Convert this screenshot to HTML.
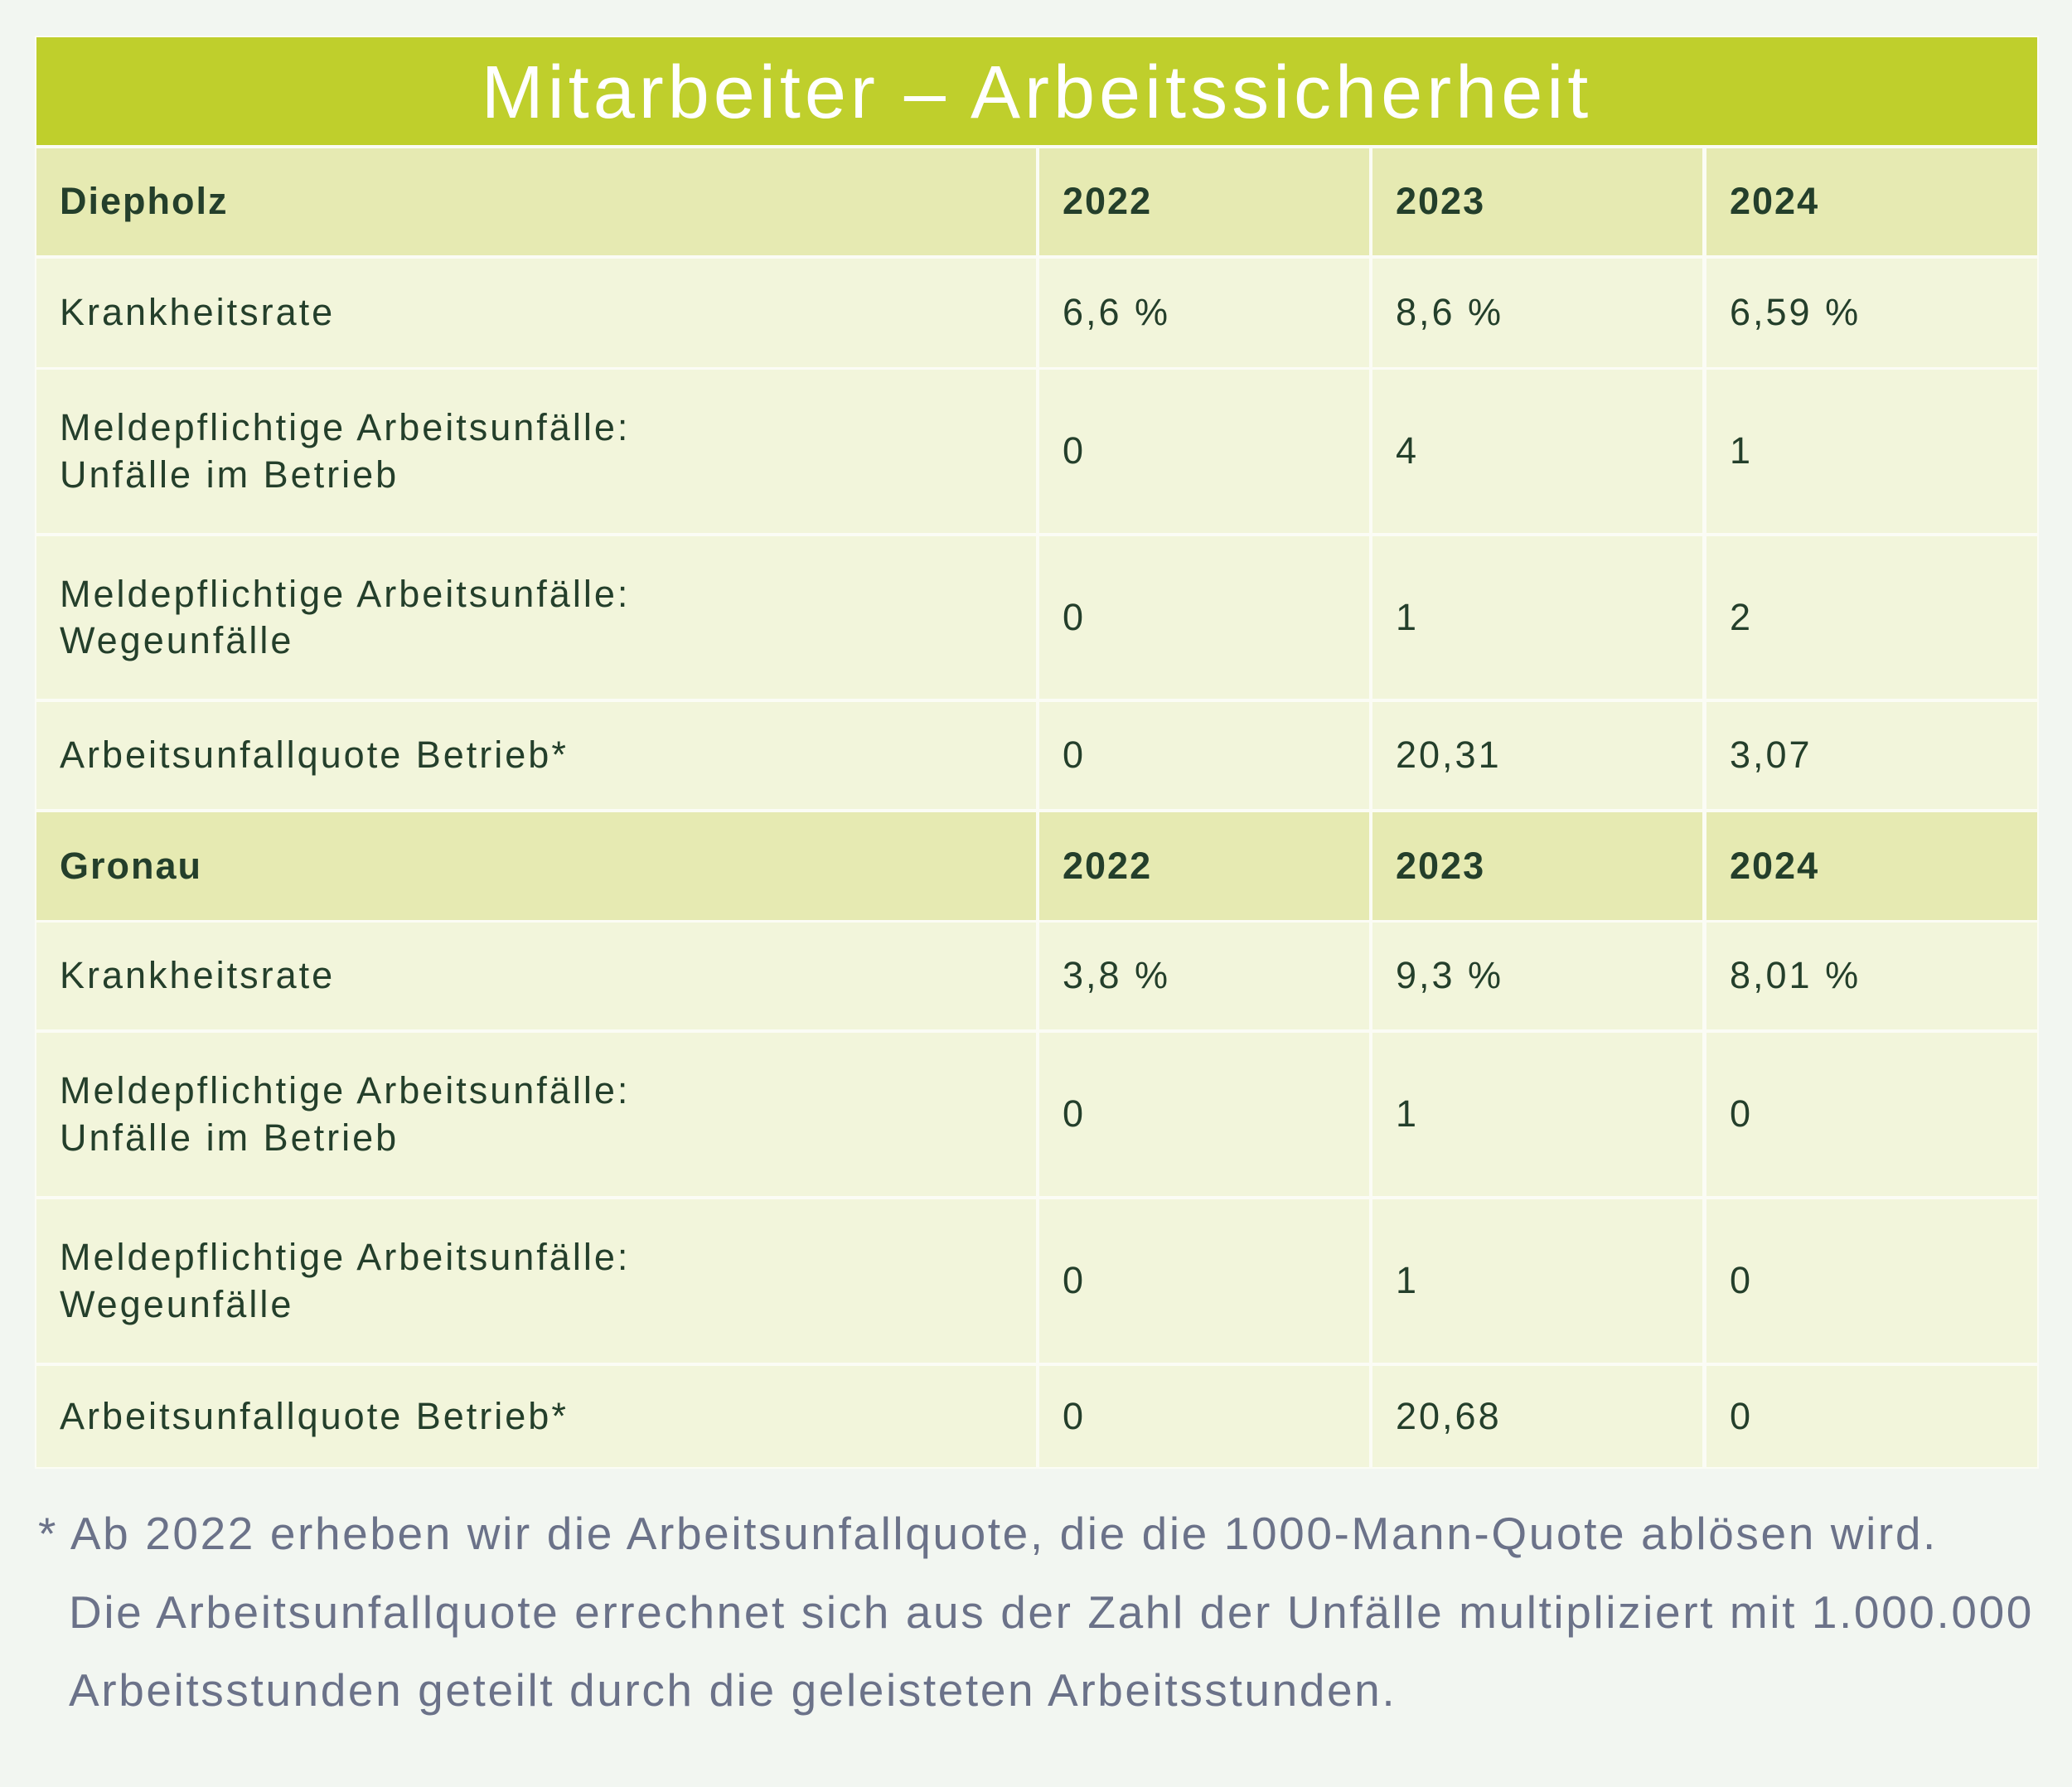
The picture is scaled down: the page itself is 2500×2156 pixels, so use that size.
<!DOCTYPE html>
<html><head><meta charset="utf-8"><style>
body{margin:0;width:2500px;height:2156px;background:#f2f6f1;position:relative;font-family:"Liberation Sans",sans-serif;overflow:hidden}
.c{position:absolute;display:flex;align-items:center;box-sizing:border-box;padding-left:28px;font-size:45px;letter-spacing:3px;color:#243f2b;line-height:1.25;white-space:nowrap}
.h{background:#e6eab2;font-weight:bold;letter-spacing:2px}
.b{background:#f2f5db}
.f{position:absolute;font-size:55px;letter-spacing:2.6px;color:#6b7289;white-space:nowrap}
</style></head><body>
<div style="position:absolute;left:42px;top:43px;width:2418px;height:1729px;background:#fbfcf5"></div>
<div style="position:absolute;left:44px;top:45px;width:2414px;height:130px;background:#bfcf2c;color:#fff;font-size:90px;letter-spacing:5px;display:flex;align-items:center;justify-content:center;padding-top:4px;box-sizing:border-box">Mitarbeiter – Arbeitssicherheit</div>
<div id="t"></div>
<script>
var rows=[
[179,129,'h',['Diepholz','2022','2023','2024']],
[312,131,'b',['Krankheitsrate','6,6 %','8,6 %','6,59 %']],
[446,197,'b',['Meldepflichtige Arbeitsunfälle:<br>Unfälle im Betrieb','0','4','1']],
[647,196,'b',['Meldepflichtige Arbeitsunfälle:<br>Wegeunfälle','0','1','2']],
[847,129,'b',['Arbeitsunfallquote Betrieb*','0','20,31','3,07']],
[980,130,'h',['Gronau','2022','2023','2024']],
[1113,129,'b',['Krankheitsrate','3,8 %','9,3 %','8,01 %']],
[1246,197,'b',['Meldepflichtige Arbeitsunfälle:<br>Unfälle im Betrieb','0','1','0']],
[1447,197,'b',['Meldepflichtige Arbeitsunfälle:<br>Wegeunfälle','0','1','0']],
[1648,122,'b',['Arbeitsunfallquote Betrieb*','0','20,68','0']]];
var cols=[[44,1206],[1254,398],[1656,398],[2059,399]];
var h='';
rows.forEach(function(r){cols.forEach(function(c,i){
h+='<div class="c '+r[2]+'" style="left:'+c[0]+'px;top:'+r[0]+'px;width:'+c[1]+'px;height:'+r[1]+'px">'+r[3][i]+'</div>';});});
document.getElementById('t').innerHTML=h;
</script>
<div class="f" style="left:46px;top:1818px">* Ab 2022 erheben wir die Arbeitsunfallquote, die die 1000-Mann-Quote ablösen wird.</div>
<div class="f" style="left:83px;top:1913px">Die Arbeitsunfallquote errechnet sich aus der Zahl der Unfälle multipliziert mit 1.000.000</div>
<div class="f" style="left:83px;top:2007px">Arbeitsstunden geteilt durch die geleisteten Arbeitsstunden.</div>
</body></html>
